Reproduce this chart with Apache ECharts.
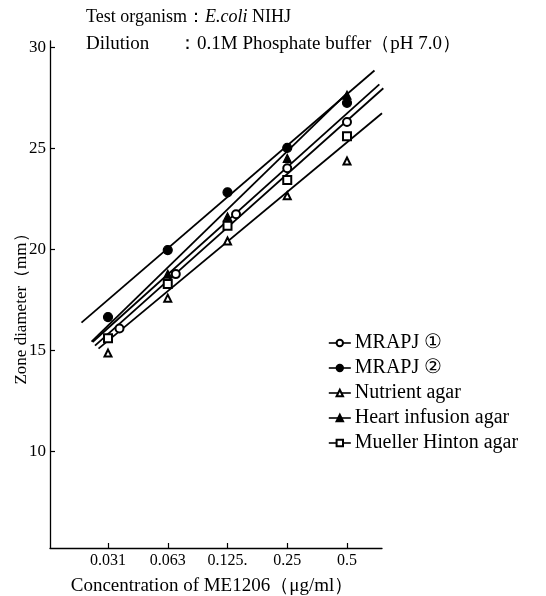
<!DOCTYPE html>
<html><head><meta charset="utf-8">
<script src="https://cdn.jsdelivr.net/npm/echarts@6/dist/echarts.min.js"></script>
<style>html,body{margin:0;padding:0;background:#fff}#c{width:546px;height:596px}</style>
</head><body><div id="c"></div>
<script>
// Concentrations (µg/ml) and tick labels
const concentrations = [0.03125, 0.0625, 0.125, 0.25, 0.5];
const tickLabels = ['0.031', '0.063', '0.125.', '0.25', '0.5'];
const yTicks = [10, 15, 20, 25, 30];

// Zone diameters (mm)
const mrapj1 = [16.07, 18.76, 21.72, 24.0, 26.29];
const mrapj1Conc = [0.0357, 0.0686, 0.138, 0.25, 0.5]; // plotted slightly offset in the original
const mrapj2 = [16.63, 19.95, 22.81, 25.01, 27.24];
const nutrient = [14.85, 17.57, 20.4, 22.64, 24.36];
const heart = [15.6, 18.76, 21.6, 24.49, 27.62];
const mueller = [15.58, 18.27, 21.15, 23.42, 25.59];

// Fitted lines: [concentration, diameter] end points
const fitMrapj1 = [[0.02612, 15.40], [0.7276, 28.15]];
const fitMrapj2 = [[0.02297, 16.36], [0.6877, 28.84]];
const fitNutrient = [[0.02799, 15.07], [0.7506, 26.72]];
const fitHeart = [[0.02581, 15.42], [0.5, 27.72]];
const fitMueller = [[0.02687, 15.22], [0.7621, 27.96]];

const names = ['MRAPJ \u2460', 'MRAPJ \u2461', 'Nutrient agar', 'Heart infusion agar', 'Mueller Hinton agar'];

const lx = c => Math.log2(c / 0.03125);
const FONT = '"Liberation Serif", "Times New Roman", serif';

function pts(xs, ys) { return ys.map((y, i) => [lx(xs[i]), y]); }
function fit(seg) { return seg.map(p => [lx(p[0]), p[1]]); }

const fits = [fitMrapj1, fitMrapj2, fitNutrient, fitHeart, fitMueller];
const pointSets = [
  pts(mrapj1Conc, mrapj1),
  pts(concentrations, mrapj2),
  pts(concentrations, nutrient),
  pts(concentrations, heart),
  pts(concentrations, mueller)
];
const symbols = ['emptyCircle', 'circle', 'emptyTriangle', 'triangle', 'emptyRect'];
const sizes = [8, 9, 7, 8, 8];

const series = [];
fits.forEach((f, i) => {
  series.push({
    type: 'line', data: fit(f), symbol: 'none', silent: true, z: 2,
    lineStyle: { color: '#000', width: 1.8 }, animation: false
  });
});
pointSets.forEach((p, i) => {
  series.push({
    name: names[i], type: 'line', data: p, symbol: symbols[i], symbolSize: sizes[i], z: 5,
    lineStyle: { opacity: 0, width: 0 },
    itemStyle: { color: '#000', borderColor: '#000', borderWidth: 1.2 },
    animation: false
  });
});

const chart = echarts.init(document.getElementById('c'), null, { renderer: 'canvas' });
chart.setOption({
  backgroundColor: '#fff',
  animation: false,
  grid: { left: 50, right: 164, top: 41, bottom: 48 },
  xAxis: {
    type: 'value', min: -0.971, max: 4.586,
    axisLine: { onZero: false, lineStyle: { color: '#000', width: 1.3 } },
    axisTick: { inside: true, length: 5, customValues: [0, 1, 2, 3, 4], lineStyle: { color: '#000', width: 1.2 } },
    axisLabel: { customValues: [0, 1, 2, 3, 4], formatter: v => tickLabels[Math.round(v)], color: '#000', fontSize: 16, fontFamily: FONT, margin: 5 },
    splitLine: { show: false }
  },
  yAxis: {
    type: 'value', min: 5.2, max: 30.3,
    axisLine: { show: true, onZero: false, lineStyle: { color: '#000', width: 1.3 } },
    axisTick: { show: true, inside: true, length: 5, customValues: yTicks, lineStyle: { color: '#000', width: 1.2 } },
    axisLabel: { customValues: yTicks, color: '#000', fontSize: 17, fontFamily: FONT, margin: 4 },
    splitLine: { show: false }
  },
  legend: {
    orient: 'vertical', left: 323, top: 328, itemGap: 5, itemWidth: 22, itemHeight: 8,
    data: names,
    textStyle: { color: '#000', fontSize: 20, fontFamily: FONT, padding: [0, 0, 0, -1] },
    lineStyle: { color: '#000', width: 1.6, opacity: 1 },
    itemStyle: { color: '#000', borderColor: '#000' }
  },
  graphic: [
    { type: 'text', left: 86, top: 8, style: { rich: { a: { fontSize: 18, fontFamily: FONT, fill: '#000' }, i: { fontSize: 18, fontFamily: FONT, fontStyle: 'italic', fill: '#000' } }, text: '{a|Test organism\uff1a}{i|E.coli}{a| NIHJ}' } },
    { type: 'text', left: 86, top: 35, style: { text: 'Dilution', fontSize: 19, fontFamily: FONT, fill: '#000' } },
    { type: 'text', left: 178, top: 35, style: { text: '\uff1a0.1M Phosphate buffer\uff08pH 7.0\uff09', fontSize: 19, fontFamily: FONT, fill: '#000' } },
    { type: 'text', x: 22, y: 305, rotation: Math.PI / 2, style: { text: 'Zone diameter\uff08mm\uff09', fontSize: 17, fontFamily: FONT, fill: '#000', align: 'center', verticalAlign: 'middle' } },
    { type: 'text', x: 212, y: 586, style: { text: 'Concentration of ME1206\uff08\u03bcg/ml\uff09', fontSize: 19, fontFamily: FONT, fill: '#000', align: 'center', verticalAlign: 'middle' } }
  ],
  series: series
});
</script>
</body></html>
